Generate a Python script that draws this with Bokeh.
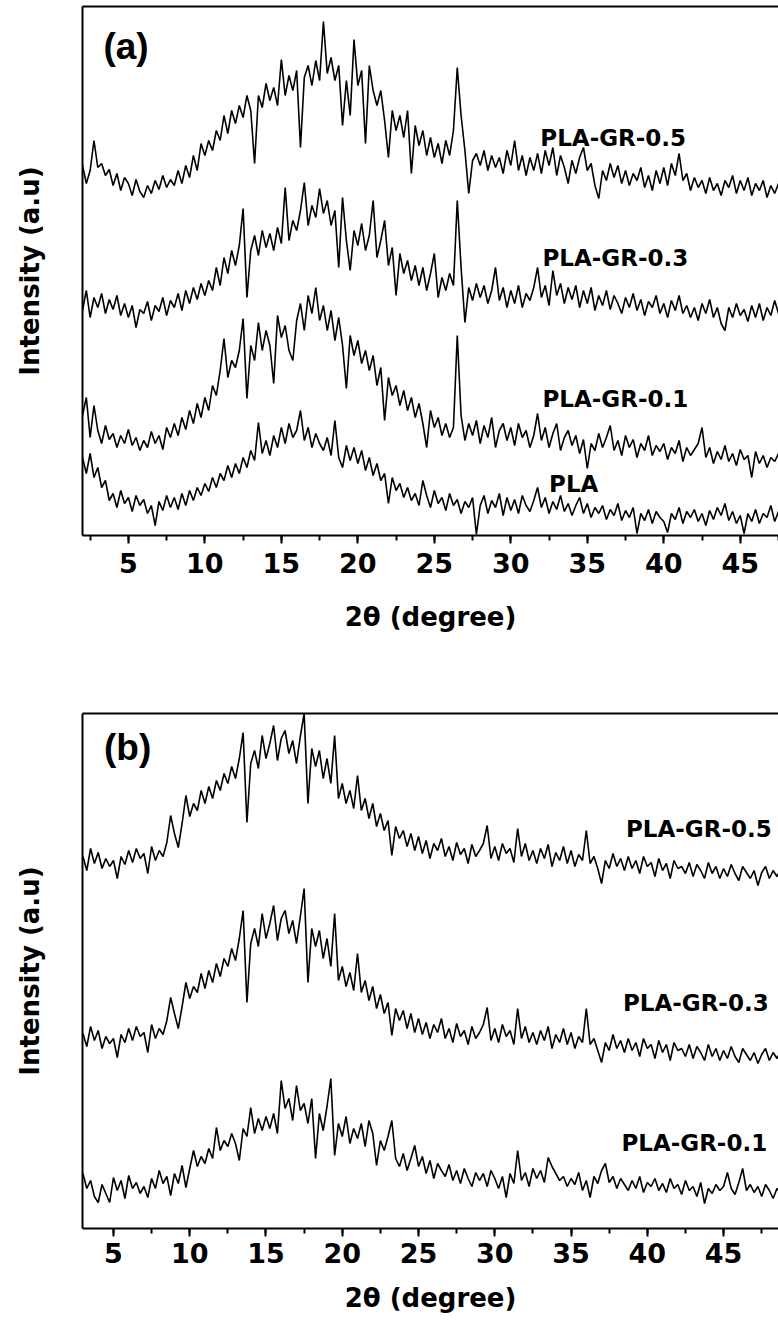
import numpy as np
from bokeh.plotting import figure
from bokeh.models import Range1d, LinearAxis, FixedTicker, SingleIntervalTicker, Label
from bokeh.layouts import column
from bokeh.embed import file_html
from bokeh.resources import INLINE

# 2-theta scan grid (start, step) for each panel
theta_start_a = 2.0
theta_start_b = 3.0
theta_step = 0.25

# ---------------- panel (a) intensities (a.u., stacked as plotted) ----------------
gr05_a = [
    370, 352, 365, 395, 368, 372, 360, 366,
    350, 362, 345, 358, 352, 340, 356, 344,
    338, 350, 342, 355, 346, 360, 348, 356,
    350, 365, 352, 370, 358, 380, 365, 392,
    380, 395, 385, 405, 395, 420, 402, 425,
    412, 430, 418, 440, 425, 372, 440, 428,
    452, 435, 448, 430, 476, 440, 460, 445,
    465, 388, 458, 470, 450, 475, 455, 514,
    462, 478, 455, 470, 410, 455, 420, 496,
    450, 465, 392, 470, 445, 430, 445, 415,
    378, 425, 405, 420, 398, 425, 362, 410,
    390, 405, 380, 398, 378, 392, 372, 395,
    380, 405, 468, 420, 385, 342, 375, 382,
    370, 385, 365, 380, 368, 378, 362, 385,
    370, 395, 365, 380, 360, 378, 365, 382,
    362, 385, 370, 388, 360, 380, 368, 352,
    375, 362, 378, 388, 365, 372, 350, 337,
    365, 355, 372, 358, 370, 352, 365, 350,
    362, 355, 368, 348, 360, 345, 365, 352,
    368, 350, 372, 360, 382, 355, 362, 345,
    358, 348, 355, 342, 358, 345, 352, 340,
    355, 348, 360, 342, 355, 345, 358, 340,
    352, 345, 355, 338, 350, 342, 352, 345,
]
gr03_a = [
    225, 245, 218, 238, 228, 242, 222, 236,
    226, 240, 220, 232, 218, 230, 208, 226,
    222, 234, 215, 230, 224, 238, 220, 235,
    228, 242, 225, 245, 232, 248, 236, 252,
    240, 255, 245, 268, 250, 278, 262, 285,
    270, 290, 327, 238, 285, 300, 280, 305,
    288, 302, 285, 308, 292, 348, 295, 315,
    305, 325, 353, 310, 330, 318, 347, 322,
    335, 310, 325, 268, 338, 295, 265, 305,
    290, 312, 285, 300, 335, 278, 295, 315,
    270, 288, 240, 282, 262, 275, 255, 270,
    250, 268, 245, 262, 282, 238, 258, 245,
    262, 250, 335, 268, 213, 248, 235, 252,
    238, 250, 232, 245, 268, 235, 248, 228,
    245, 232, 250, 228, 242, 235, 248, 268,
    238, 250, 230, 265, 240, 252, 232, 248,
    236, 250, 228, 245, 232, 248, 225, 240,
    230, 245, 226, 240, 232, 222, 238, 228,
    242, 225, 236, 220, 234, 228, 240, 222,
    232, 218, 235, 225, 240, 222, 230, 218,
    228, 215, 232, 222, 236, 218, 228, 212,
    205, 228, 218, 232, 220, 226, 214, 230,
    218, 232, 215, 228, 220, 235, 222, 228,
]
gr01_a = [
    120, 138, 98, 130, 105, 92, 110, 96,
    102, 88, 100, 92, 106, 90, 98, 85,
    95, 88, 104, 92, 100, 86, 108, 98,
    112, 100, 118, 106, 125, 112, 132, 118,
    138, 125, 150, 140, 165, 197, 158, 175,
    168, 185, 217, 137, 190, 175, 213, 185,
    205, 190, 152, 220, 198, 210, 185, 175,
    215, 232, 205, 240, 222, 248, 215, 230,
    205, 225, 195, 218, 190, 147, 200, 180,
    195, 172, 185, 165, 180, 150, 168, 115,
    158, 140, 150, 130, 145, 125, 138, 118,
    132, 112, 88, 125, 108, 118, 100, 112,
    98, 108, 200, 120, 95, 112, 100, 115,
    92, 110, 98, 118, 88, 105, 112, 95,
    108, 90, 112, 98, 105, 88, 100, 122,
    95, 108, 88, 102, 112, 85, 98, 105,
    90, 100, 82, 96, 67, 92, 85, 102,
    88, 98, 110, 85, 95, 80, 100, 88,
    96, 78, 92, 85, 100, 80, 90, 84,
    92, 76, 88, 82, 95, 74, 88, 80,
    86, 92, 108, 78, 88, 72, 84, 76,
    90, 74, 82, 70, 86, 76, 80, 58,
    84, 72, 80, 68, 78, 74, 82, 70,
]
pla_a = [
    78, 62, 82, 58, 68, 48, 55, 35,
    42, 28, 45, 32, 38, 24, 40, 30,
    36, 22, 30, 10, 34, 25, 40, 28,
    38, 26, 42, 30, 45, 35, 48, 40,
    52, 44, 58, 48, 62, 55, 70, 58,
    72, 62, 78, 68, 85, 75, 113, 82,
    95, 80, 100, 88, 108, 92, 112, 98,
    105, 125, 95, 108, 88, 102, 92, 85,
    98, 80, 115, 78, 68, 90, 75, 88,
    72, 85, 65, 78, 60, 72, 55, 62,
    32, 58, 45, 52, 38, 48, 35, 42,
    30, 55, 40, 28, 45, 32, 38, 25,
    42, 30, 36, 22, 34, 28, 38, 1,
    30, 40, 22, 35, 28, 42, 20, 38,
    25, 36, 22, 40, 30, 24, 35, 48,
    28, 38, 22, 34, 26, 40, 24, 32,
    20, 30, 38, 22, 32, 18, 28, 22,
    30, 16, 26, 20, 32, 15, 25, 18,
    28, 2, 22, 15, 26, 12, 24, 18,
    14, 3, 22, 16, 28, 12, 24, 18,
    26, 14, 22, 10, 25, 16, 28, 20,
    32, 15, 24, 12, 20, 2, 22, 14,
    26, 12, 22, 18, 30, 14, 24, 20,
]

# ---------------- panel (b) intensities ----------------
gr05_b = [
    372, 358, 380, 365, 376, 360, 370, 362,
    368, 350, 372, 364, 378, 366, 380, 370,
    375, 355, 382, 368, 378, 372, 386, 413,
    395, 381, 405, 433, 412, 425, 418, 438,
    425, 442, 430, 448, 438, 455, 445, 462,
    450, 470, 496, 406, 465, 478, 460, 493,
    470, 485, 503, 468, 490, 498, 475, 488,
    465, 492, 515, 425, 480, 462, 478, 450,
    470, 445, 493, 430, 445, 425, 438, 420,
    453, 418, 430, 410, 425, 402, 415, 398,
    408, 373, 402, 390, 398, 382, 395, 378,
    392, 375, 388, 370, 385, 378, 390, 372,
    382, 368, 386, 374, 380, 365, 384, 372,
    378, 385, 403, 370, 382, 368, 385, 375,
    380, 366, 400, 372, 385, 368, 378, 365,
    380, 370, 384, 362, 376, 368, 382, 365,
    378, 362, 374, 368, 398, 365, 372, 360,
    345, 368, 360, 375, 362, 370, 358, 372,
    360, 368, 355, 372, 362, 366, 352, 370,
    358, 365, 350, 368, 360, 362, 355, 366,
    352, 364, 358, 350, 366, 355, 362, 350,
    360, 352, 364, 355, 348, 362, 356, 350,
    358, 343, 356, 362, 350, 358, 352, 360,
]
gr03_b = [
    195, 182, 202, 188, 198, 180, 192, 185,
    190, 171, 194, 186, 200, 188, 202, 192,
    196, 176, 204, 190, 200, 194, 208, 231,
    215, 200, 222, 246, 230, 242, 236, 255,
    240, 258, 246, 265, 252, 270, 262, 280,
    268, 290, 318, 226, 285, 300, 282, 315,
    290, 305, 323, 288, 310, 318, 295, 308,
    285, 312, 340, 246, 300, 282, 298, 270,
    290, 262, 315, 248, 262, 242, 256, 238,
    275, 236, 248, 228, 242, 220, 234, 215,
    226, 193, 220, 208, 218, 200, 215, 196,
    210, 194, 206, 190, 204, 196, 210, 190,
    200, 186, 205, 192, 198, 184, 202, 190,
    196, 204, 221, 188, 200, 186, 204, 192,
    198, 184, 220, 190, 202, 186, 196, 184,
    198, 188, 202, 180, 194, 186, 200, 184,
    196, 180, 192, 186, 220, 184, 190, 178,
    166, 186, 178, 194, 180, 188, 176, 190,
    178, 186, 172, 190, 180, 184, 170, 188,
    176, 184, 168, 186, 178, 180, 172, 184,
    170, 182, 176, 168, 184, 172, 180, 168,
    178, 170, 182, 172, 166, 180, 174, 168,
    176, 165, 174, 180, 168, 176, 170, 178,
]
gr01_b = [
    55, 40, 48, 32, 26, 44, 35, 26,
    51, 38, 48, 30, 53, 40, 46, 35,
    42, 31, 50, 40, 58, 45, 52, 33,
    55, 45, 63, 41, 60, 78, 62, 72,
    65, 80, 70, 101, 78, 88, 82, 95,
    85, 68, 100, 92, 121, 95, 110, 98,
    112, 100, 115, 95, 148, 120, 130, 108,
    143, 118, 125, 105, 130, 70, 115, 98,
    122, 150, 73, 105, 92, 112, 85, 100,
    90, 105, 82, 108, 95, 63, 88, 78,
    92, 108, 70, 62, 75, 58, 70, 83,
    62, 72, 55, 68, 50, 65, 58, 52,
    64, 48, 58, 45, 60, 50, 42, 56,
    48, 55, 42, 58, 50, 40, 52, 31,
    55, 45, 78, 48, 56, 42, 60, 50,
    58, 46, 71, 62, 55, 48, 52, 42,
    50, 44, 56, 38, 48, 31, 52, 45,
    58, 65, 46, 52, 40, 50, 44, 38,
    48, 40, 52, 36, 46, 42, 50, 38,
    45, 36, 50, 40, 44, 34, 48, 38,
    42, 32, 46, 25, 40, 35, 44, 38,
    42, 56, 40, 34, 46, 60, 38, 44,
    36, 42, 32, 44, 38, 30, 40, 35,
]

series_a = [gr05_a, gr03_a, gr01_a, pla_a]
series_b = [gr05_b, gr03_b, gr01_b]
names_a = ["PLA-GR-0.5", "PLA-GR-0.3", "PLA-GR-0.1", "PLA"]
names_b = ["PLA-GR-0.5", "PLA-GR-0.3", "PLA-GR-0.1"]
# label anchor (2theta, intensity) for each curve name
label_pos_a = [(31.93, 398), (32.07, 278), (32.07, 137), (32.5, 52)]
label_pos_b = [(38.6, 400), (38.4, 226), (38.3, 86)]

x_title = "2\u03b8 (degree)"
y_title = "Intensity (a.u)"

FONT = "DejaVu Sans"


def make_panel(height, top, bottom, xr, yr, series, start, names, lpos, tag, tagpos,
               tick_stand, xlab_stand):
    p = figure(width=778, height=height, x_range=xr, y_range=yr,
               output_backend="svg", toolbar_location=None,
               x_axis_location=None, y_axis_location=None,
               min_border_left=82, min_border_right=0,
               min_border_top=top, min_border_bottom=bottom)
    p.outline_line_color = None
    p.grid.visible = False
    p.background_fill_color = "white"
    p.border_fill_color = "white"

    xa = LinearAxis(ticker=SingleIntervalTicker(interval=5, num_minor_ticks=2))
    xa.axis_line_width = 2
    xa.major_tick_line_width = 2
    xa.minor_tick_line_width = 2
    xa.major_tick_in = 0
    xa.major_tick_out = 8
    xa.minor_tick_in = 0
    xa.minor_tick_out = 5
    xa.major_label_text_font = FONT
    xa.major_label_text_font_style = "bold"
    xa.major_label_text_font_size = "27px"
    xa.major_label_text_color = "black"
    xa.major_label_standoff = tick_stand
    xa.axis_label = x_title
    xa.axis_label_text_font = FONT
    xa.axis_label_text_font_style = "bold"
    xa.axis_label_text_font_size = "26px"
    xa.axis_label_text_color = "black"
    xa.axis_label_standoff = xlab_stand
    p.add_layout(xa, "below")

    ya = LinearAxis(ticker=FixedTicker(ticks=[]))
    ya.axis_line_width = 2
    ya.major_tick_out = 0
    ya.major_tick_in = 0
    ya.minor_tick_out = 0
    ya.minor_tick_in = 0
    ya.major_label_standoff = 0
    ya.major_label_text_font_size = "0px"
    ya.axis_label = y_title
    ya.axis_label_text_font = FONT
    ya.axis_label_text_font_style = "bold"
    ya.axis_label_text_font_size = "26px"
    ya.axis_label_text_color = "black"
    ya.axis_label_standoff = 38
    p.add_layout(ya, "left")

    ta = LinearAxis(ticker=FixedTicker(ticks=[]))
    ta.axis_line_width = 2
    ta.major_tick_out = 0
    ta.major_tick_in = 0
    ta.minor_tick_out = 0
    ta.minor_tick_in = 0
    ta.major_label_standoff = 0
    ta.major_label_text_font_size = "0px"
    p.add_layout(ta, "above")

    for vals in series:
        x = start + theta_step * np.arange(len(vals))
        p.line(x, vals, line_color="black", line_width=1.6)

    for name, (lx, ly) in zip(names, lpos):
        p.add_layout(Label(x=lx, y=ly, text=name, text_font=FONT, text_font_style="bold",
                           text_font_size="23px", text_align="left", text_baseline="middle",
                           text_color="black"))

    p.add_layout(Label(x=tagpos[0], y=tagpos[1], text=tag, text_font="Liberation Sans",
                       text_font_style="bold", text_font_size="37px", text_align="left",
                       text_baseline="middle", text_color="black"))
    return p


pa = make_panel(660, 6, 125, Range1d(2.0, 47.5), Range1d(0, 529), series_a, theta_start_a,
                names_a, label_pos_a, "(a)", (3.37, 489), 9, 26)
pb = make_panel(666, 53, 98, Range1d(2.97, 48.6), Range1d(0, 515), series_b, theta_start_b,
                names_b, label_pos_b, "(b)", (4.38, 481), 6, 17)

layout = column(pa, pb, spacing=0)
open("out.html", "w").write(file_html(layout, INLINE))
